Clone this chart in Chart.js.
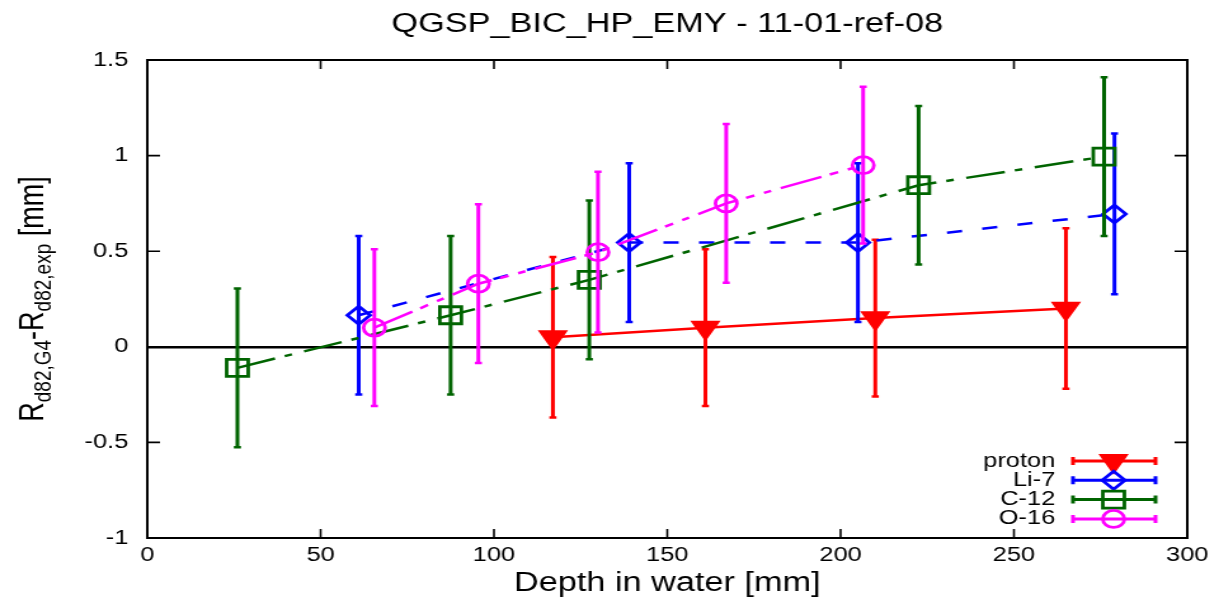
<!DOCTYPE html>
<html>
<head>
<meta charset="utf-8">
<script src="https://cdn.jsdelivr.net/npm/chart.js@4.4.1/dist/chart.umd.min.js"></script>
<style>
  html, body { margin: 0; padding: 0; background: #fff; overflow: hidden; }
</style>
</head>
<body>
<!-- drawn at 960 wide and stretched to 1219, like the original picture -->
<canvas id="plot" width="960" height="600" style="display:block;width:1219px;height:600px"></canvas>
<script>
const chartTitle = "QGSP_BIC_HP_EMY - 11-01-ref-08";
const xTitle = "Depth in water [mm]";

const xTicks = [0, 50, 100, 150, 200, 250, 300];
const yTicks = [-1, -0.5, 0, 0.5, 1, 1.5];

const seriesNames = ["proton", "Li-7", "C-12", "O-16"];

const depthProton = [117, 161, 210, 265];
const devProton = [0.05, 0.10, 0.15, 0.20];
const errProton = [0.42, 0.41, 0.41, 0.42];

const depthLi7 = [61, 139, 205, 279];
const devLi7 = [0.165, 0.545, 0.545, 0.695];
const errLi7 = [0.415, 0.415, 0.415, 0.42];

const depthC12 = [26, 87.5, 127.5, 222.5, 276];
const devC12 = [-0.11, 0.165, 0.35, 0.845, 0.995];
const errC12 = [0.415, 0.415, 0.415, 0.415, 0.415];

const depthO16 = [65.5, 95.5, 130, 167, 206.5];
const devO16 = [0.10, 0.33, 0.495, 0.75, 0.95];
const errO16 = [0.41, 0.415, 0.42, 0.415, 0.41];

const FONT = "'Liberation Sans', Arial, sans-serif";

function pairs(xs, ys) {
    return xs.map((x, i) => ({x: x, y: ys[i]}));
}

function makeSet(name, xs, ys, errs, color, style, extra) {
    return Object.assign({
        label: name,
        data: pairs(xs, ys),
        errors: errs,
        borderColor: color,
        borderWidth: 2.5,
        pointStyle: style,
        pointBorderColor: color,
        pointBackgroundColor: 'rgba(0,0,0,0)',
        pointBorderWidth: 2.8,
        pointHoverRadius: 0,
        fill: false,
        tension: 0
    }, extra);
}

const datasets = [
    makeSet(seriesNames[0], depthProton, devProton, errProton, '#ff0000', 'triangle',
        {pointRotation: 180, pointRadius: 11, pointBackgroundColor: '#ff0000', order: 4}),
    makeSet(seriesNames[1], depthLi7, devLi7, errLi7, '#0000ff', 'rectRot',
        {pointRadius: 9, borderDash: [12, 16], order: 3}),
    makeSet(seriesNames[2], depthC12, devC12, errC12, '#006400', 'rect',
        {pointRadius: 12, borderDash: [31, 8, 6, 10], order: 2}),
    makeSet(seriesNames[3], depthO16, devO16, errO16, '#ff00ff', 'circle',
        {pointRadius: 8.5, borderDash: [34, 7, 7, 8, 6, 8], order: 1})
];

// vertical error bars, drawn just under each series
const errorBars = {
    id: 'errorBars',
    beforeDatasetDraw(chart, args) {
        const ds = chart.data.datasets[args.index];
        const yScale = chart.scales.y;
        const ctx = chart.ctx;
        ctx.save();
        ctx.strokeStyle = ds.borderColor;
        ctx.setLineDash([]);
        args.meta.data.forEach((pt, i) => {
            const v = ds.data[i].y;
            const top = yScale.getPixelForValue(v + ds.errors[i]);
            const bot = yScale.getPixelForValue(v - ds.errors[i]);
            ctx.lineWidth = 3;
            ctx.beginPath();
            ctx.moveTo(pt.x, top);
            ctx.lineTo(pt.x, bot);
            ctx.stroke();
            ctx.lineWidth = 2.5;
            ctx.beginPath();
            ctx.moveTo(pt.x - 2.8, top);
            ctx.lineTo(pt.x + 2.8, top);
            ctx.moveTo(pt.x - 2.8, bot);
            ctx.lineTo(pt.x + 2.8, bot);
            ctx.stroke();
        });
        ctx.restore();
    }
};

// gnuplot style frame, inward ticks, titles and key
const frame = {
    id: 'frame',
    afterDraw(chart) {
        const ctx = chart.ctx;
        const a = chart.chartArea;
        const xs = chart.scales.x, ys = chart.scales.y;
        ctx.save();
        ctx.strokeStyle = '#000';
        ctx.lineWidth = 1.6;
        ctx.setLineDash([]);
        ctx.beginPath();
        xTicks.forEach(t => {
            const px = xs.getPixelForValue(t);
            ctx.moveTo(px, a.bottom); ctx.lineTo(px, a.bottom - 9);
            ctx.moveTo(px, a.top); ctx.lineTo(px, a.top + 9);
        });
        yTicks.forEach(t => {
            const py = ys.getPixelForValue(t);
            ctx.moveTo(a.left, py); ctx.lineTo(a.left + 10, py);
            ctx.moveTo(a.right, py); ctx.lineTo(a.right - 10, py);
        });
        ctx.stroke();
        ctx.lineWidth = 2;
        ctx.strokeRect(a.left, a.top, a.right - a.left, a.bottom - a.top);

        // title
        ctx.fillStyle = '#000';
        ctx.font = '27px ' + FONT;
        ctx.textAlign = 'center';
        ctx.textBaseline = 'middle';
        ctx.fillText(chartTitle, (a.left + a.right) / 2, 25);

        // y title with subscripts
        const parts = [
            ['R', 27, 0], ['d82,G4', 19, 6], ['-R', 27, 0], ['d82,exp', 19, 6], [' [mm]', 27, 0]
        ];
        let total = 0;
        parts.forEach(p => { ctx.font = p[1] + 'px ' + FONT; total += ctx.measureText(p[0]).width; });
        ctx.translate(34, (a.top + a.bottom) / 2);
        ctx.rotate(-Math.PI / 2);
        ctx.textAlign = 'left';
        ctx.textBaseline = 'alphabetic';
        let pos = -total / 2;
        parts.forEach(p => {
            ctx.font = p[1] + 'px ' + FONT;
            ctx.fillText(p[0], pos, p[2]);
            pos += ctx.measureText(p[0]).width;
        });
        ctx.restore();

        // key, bottom right
        ctx.save();
        ctx.font = '20px ' + FONT;
        ctx.textAlign = 'right';
        ctx.textBaseline = 'middle';
        chart.data.datasets.forEach((ds, i) => {
            const y = 461 + i * 19.3;
            ctx.fillStyle = '#000';
            ctx.fillText(ds.label, 831, y);
            ctx.strokeStyle = ds.borderColor;
            ctx.lineWidth = 3;
            ctx.setLineDash([]);
            ctx.beginPath();
            ctx.moveTo(845, y); ctx.lineTo(910, y);
            ctx.moveTo(845, y - 4); ctx.lineTo(845, y + 4);
            ctx.moveTo(910, y - 4); ctx.lineTo(910, y + 4);
            ctx.stroke();
            ctx.fillStyle = ds.pointBackgroundColor;
            ctx.lineWidth = ds.pointBorderWidth;
            Chart.helpers.drawPoint(ctx, {
                pointStyle: ds.pointStyle,
                rotation: ds.pointRotation || 0,
                radius: ds.pointRadius,
                borderWidth: ds.pointBorderWidth
            }, 877, y);
        });
        ctx.restore();
    }
};

new Chart(document.getElementById('plot'), {
    type: 'line',
    data: { datasets: datasets },
    plugins: [errorBars, frame],
    options: {
        responsive: false,
        animation: false,
        events: [],
        layout: { padding: { top: 60, right: 25, left: 0, bottom: 0 } },
        plugins: {
            legend: { display: false },
            title: { display: false },
            tooltip: { enabled: false }
        },
        scales: {
            x: {
                type: 'linear',
                min: 0,
                max: 300,
                afterBuildTicks: s => { s.ticks = xTicks.map(v => ({value: v})); },
                afterFit: s => { s.height = 62; },
                grid: { display: false, drawTicks: false },
                border: { display: false },
                ticks: {
                    padding: 5,
                    color: '#000',
                    font: { family: FONT, size: 20 },
                    callback: v => String(v)
                },
                title: {
                    display: true,
                    text: xTitle,
                    color: '#000',
                    font: { family: FONT, size: 27 },
                    padding: { top: 0, bottom: 0 }
                }
            },
            y: {
                type: 'linear',
                min: -1,
                max: 1.5,
                afterBuildTicks: s => { s.ticks = yTicks.map(v => ({value: v})); },
                afterFit: s => { s.width = 116; },
                grid: {
                    drawTicks: false,
                    color: c => (c.tick && c.tick.value === 0) ? '#000' : 'rgba(0,0,0,0)',
                    lineWidth: 2.5
                },
                border: { display: false },
                ticks: {
                    padding: 15,
                    color: '#000',
                    font: { family: FONT, size: 20 },
                    callback: v => String(v)
                }
            }
        }
    }
});
</script>
</body>
</html>
